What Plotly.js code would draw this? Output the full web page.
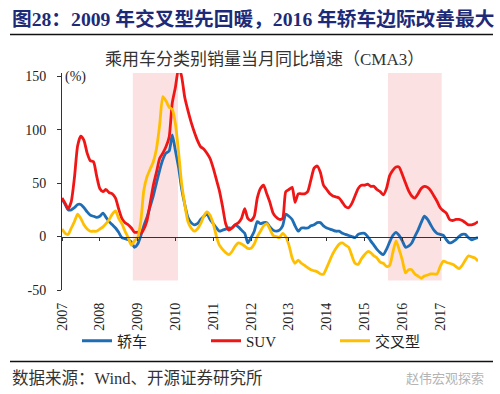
<!DOCTYPE html>
<html>
<head>
<meta charset="utf-8">
<script src="https://cdn.plot.ly/plotly-3.0.1.min.js"></script>
<style>
html,body{margin:0;padding:0;background:#fff;}
#chart{width:500px;height:394px;}
</style>
</head>
<body>
<div id="chart"></div>
<script>
// ---- data (monthly, Jan 2007 .. Jan 2018) ----
var startYear = 2007, nMonths = 133;
var months = [];
for (var i = 0; i < nMonths; i++) {
  var y = startYear + Math.floor(i / 12), m = (i % 12) + 1;
  months.push(y + '-' + (m < 10 ? '0' + m : m) + '-01');
}
var sedan = [
  35,30,25,25,27,30,30,27,23,20,19,18,
  19,22,18,14,11,8,4,-1,-2,-3,-5,-10,
  -7,1,10,18,28,38,50,62,72,78,80,95,
  80,64,45,30,18,13,11,12,16,19,21,16,
  12,8,5,6,7,8,8,11,9,6,3,-6,
  -1,5,14,12,13,13,9,6,5,6,10,21,
  19,16,10,5,8,8,8,10,11,13,13,10,
  8,7,6,5,5,3,2,1,0,-1,2,3,
  3,0,-4,-8,-12,-15,-17,-12,-5,1,4,1,
  -4,-10,-9,-6,0,6,13,19,16,11,6,3,
  2,1,-3,-6,-5,-3,0,2,2,-1,-3,-2,-1
];
var suv = [
  36,31,26,33,55,85,94,90,78,71,70,57,
  45,42,44,41,40,36,26,17,13,11,8,4,
  4,3,7,15,31,48,60,73,78,84,93,125,
  140,158,150,130,118,107,98,90,84,82,78,73,
  64,53,43,28,12,6,8,11,13,17,26,17,
  15,19,36,45,48,40,32,22,18,16,17,42,
  44,46,32,40,40,40,42,53,64,66,60,48,
  44,40,38,37,36,32,28,27,31,38,45,48,
  48,49,47,47,44,42,39,45,57,62,65,65,
  58,50,43,38,36,40,45,47,46,43,38,33,
  27,24,22,16,15,16,16,15,13,11,11,12,14
];
var crossover = [
  7,3,2,8,14,21,17,11,7,5,5,5,
  7,9,12,16,21,24,17,12,5,-1,-8,-4,
  -1,15,43,56,63,70,82,104,131,127,121,119,
  105,78,50,30,14,8,5,7,12,19,23,20,
  12,0,-8,-12,-15,-17,-14,-9,-6,-7,-9,-11,
  -11,-7,0,5,10,12,7,1,0,-1,3,0,
  -8,-20,-25,-22,-25,-27,-29,-31,-32,-33,-35,-35,
  -29,-22,-16,-11,-7,-6,-8,-10,-18,-25,-26,-21,
  -17,-14,-15,-18,-20,-24,-25,-28,-27,-15,-4,-12,
  -22,-34,-31,-31,-35,-37,-39,-37,-36,-35,-35,-35,
  -28,-23,-24,-25,-26,-28,-30,-27,-22,-18,-19,-20,-23
];
var seriesNames = ['轿车', 'SUV', '交叉型'];
var yearTicks = ['2007','2008','2009','2010','2011','2012','2013','2014','2015','2016','2017'];
var yTicks = [-50, 0, 50, 100, 150];
var shadeStart = ['2008-11-15', '2015-08-15'];
var shadeEnd   = ['2010-01-25', '2017-01-15'];
var shadeLow = -41, shadeHigh = 153;

// ---- layout helpers (pixel -> paper) ----
var W = 500, H = 394, mL = 62, mR = 22, mT = 73, mB = 104;
var pw = W - mL - mR, ph = H - mT - mB;
function fx(px) { return (px - mL) / pw; }
function fy(py) { return (H - mB - py) / ph; }

var serif = 'Liberation Serif, Times New Roman, Noto Sans CJK SC, serif';
var colors = ['#1f6db5', '#f01616', '#ffbf00'];

var traces = [sedan, suv, crossover].map(function (vals, k) {
  return {
    x: months, y: vals, type: 'scatter', mode: 'lines',
    name: seriesNames[k],
    line: { color: colors[k], width: 2.8, shape: 'spline', smoothing: 0.6 },
    hoverinfo: 'skip'
  };
});

var shapes = [];
for (var s = 0; s < shadeStart.length; s++) {
  shapes.push({ type: 'rect', xref: 'x', yref: 'y', x0: shadeStart[s], x1: shadeEnd[s],
    y0: shadeLow, y1: shadeHigh, fillcolor: '#fbe1e1', line: { width: 0 }, layer: 'below' });
}
shapes.push({ type: 'line', xref: 'paper', yref: 'paper', x0: fx(10), x1: fx(493), y0: fy(34.5), y1: fy(34.5),
  line: { color: '#111', width: 1.6 } });
shapes.push({ type: 'line', xref: 'paper', yref: 'paper', x0: fx(10), x1: fx(493), y0: fy(361.5), y1: fy(361.5),
  line: { color: '#111', width: 1.6 } });

var yMin = -50, yMax = 153;
var zeroPos = (0 - yMin) / (yMax - yMin);
var xRange = ['2007-01-01', '2018-01-01'];

var layout = {
  width: W, height: H,
  margin: { l: mL, r: mR, t: mT, b: mB, pad: 0 },
  paper_bgcolor: '#fff', plot_bgcolor: 'rgba(0,0,0,0)',
  showlegend: true,
  legend: {
    orientation: 'h', x: fx(77), xanchor: 'left', y: fy(341), yanchor: 'middle',
    entrywidth: 84, entrywidthmode: 'pixels',
    font: { family: serif, size: 15, color: '#222' },
    bgcolor: 'rgba(0,0,0,0)', itemclick: false
  },
  xaxis: {
    type: 'date', range: xRange,
    tickvals: yearTicks.map(function (t) { return t + '-01-01'; }),
    ticktext: yearTicks, tickangle: -90, ticks: '', ticklabelstandoff: 9,
    showline: false, showgrid: false, zeroline: false,
    tickfont: { family: serif, size: 14, color: '#222' }
  },
  xaxis2: {
    type: 'date', range: xRange, overlaying: 'x', anchor: 'free', position: zeroPos, side: 'bottom',
    tickvals: yearTicks.map(function (t) { return t + '-01-01'; }),
    showticklabels: false, ticks: 'outside', ticklen: 3, tickcolor: '#333',
    showline: true, linecolor: '#333', linewidth: 1, showgrid: false, zeroline: false
  },
  yaxis: {
    range: [yMin, yMax], tickvals: yTicks, ticktext: yTicks.map(String),
    ticks: 'outside', ticklen: 4, tickcolor: '#333', ticklabelstandoff: 8,
    showline: true, linecolor: '#333', linewidth: 1, showgrid: false, zeroline: false,
    tickfont: { family: serif, size: 14, color: '#222' }
  },
  shapes: shapes,
  annotations: [
    { xref: 'paper', yref: 'paper', x: fx(10), y: fy(18.5), xanchor: 'left', yanchor: 'middle', showarrow: false,
      text: '<b>图28：2009 年交叉型先回暖，2016 年轿车边际改善最大</b>',
      font: { family: serif, size: 19.7, color: '#1d2a78' } },
    { xref: 'paper', yref: 'paper', x: fx(264), y: fy(60), xanchor: 'center', yanchor: 'middle', showarrow: false,
      text: '乘用车分类别销量当月同比增速（CMA3）',
      font: { family: serif, size: 17, color: '#333' } },
    { xref: 'paper', yref: 'paper', x: fx(63), y: fy(77), xanchor: 'left', yanchor: 'middle', showarrow: false,
      text: '(%)', font: { family: serif, size: 14, color: '#222' } },
    { xref: 'paper', yref: 'paper', x: fx(10), y: fy(378), xanchor: 'left', yanchor: 'middle', showarrow: false,
      text: '数据来源：Wind、开源证券研究所', font: { family: serif, size: 16.5, color: '#333' } },
    { xref: 'paper', yref: 'paper', x: fx(486), y: fy(377), xanchor: 'right', yanchor: 'middle', showarrow: false,
      text: '赵伟宏观探索', font: { family: 'Noto Sans CJK SC, sans-serif', size: 13, color: '#b4b4b4' } }
  ]
};

// empty trace so xaxis2 (the zero line with year ticks) is created
traces.push({ x: [], y: [], xaxis: 'x2', yaxis: 'y', type: 'scatter', mode: 'lines', showlegend: false, hoverinfo: 'skip' });

Plotly.newPlot('chart', traces, layout, { staticPlot: true, displayModeBar: false });
</script>
</body>
</html>
